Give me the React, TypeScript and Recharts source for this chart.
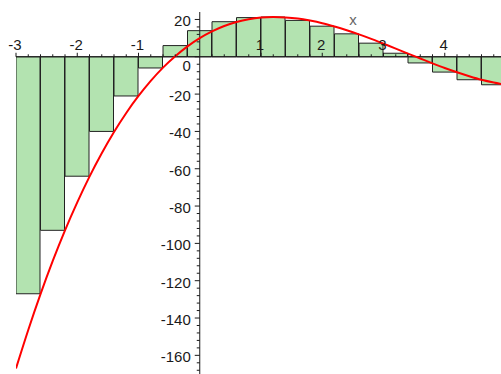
import { ComposedChart, Bar, Line, XAxis, YAxis, ReferenceLine, ReferenceDot } from 'recharts'

// strips of width 0.4 from -3 to 5, height taken at the right end of each strip
const stripMid = [-2.8, -2.4, -2.0, -1.6, -1.2, -0.8, -0.4, 0, 0.4, 0.8, 1.2, 1.6, 2.0, 2.4, 2.8, 3.2, 3.6, 4.0, 4.4, 4.8]
const stripHeight = [-127, -93, -64, -40, -21, -6, 6, 14, 18.8, 21, 21.3, 19.5, 16.4, 12.3, 7.3, 1.9, -3.3, -8.2, -12.3, -15]

// the red curve, read every 0.2
const curveX = [
  -3, -2.8, -2.6, -2.4, -2.2, -2, -1.8, -1.6, -1.4, -1.2, -1, -0.8, -0.6, -0.4, -0.2, 0, 0.2, 0.4, 0.6, 0.8, 1,
  1.2, 1.4, 1.6, 1.8, 2, 2.2, 2.4, 2.6, 2.8, 3, 3.2, 3.4, 3.6, 3.8, 4, 4.2, 4.4, 4.6, 4.8, 5,
]
const curveY = [
  -167, -146.4, -127.2, -109.4, -93, -78, -64.2, -51.7, -40.3, -30.1, -21, -12.9, -5.8, 0.3, 5.6, 10, 13.6, 16.5, 18.6, 20.1, 21,
  21.3, 21.1, 20.5, 19.4, 18, 16.2, 14.2, 12, 9.6, 7, 4.4, 1.7, -0.9, -3.5, -6, -8.3, -10.4, -12.3, -13.8, -15,
]

const xLabels = [-3, -2, -1, 1, 2, 3, 4, 5]
const yLabels = [-160, -140, -120, -100, -80, -60, -40, -20, 0, 20]

const strips = stripMid.map((x, i) => ({ x, h: stripHeight[i] }))
const curve = curveX.map((x, i) => ({ x, y: curveY[i] }))

// minor tick marks: every 0.2 on x, every 4 on y
const xMinor = Array.from({ length: 41 }, (_, i) => Math.round((-3 + i * 0.2) * 10) / 10).filter(
  (v) => !Number.isInteger(v)
)
const yMinor = Array.from({ length: 48 }, (_, i) => -168 + i * 4).filter((v) => v % 20 !== 0)

const font = '"Liberation Sans", Arial, sans-serif'
const ink = '#1a1a1a'

const xTick = (major: boolean, label?: number) => (p: any) => (
  <g>
    <line x1={p.cx} y1={p.cy} x2={p.cx} y2={p.cy - (major ? 4 : 2.5)} stroke={ink} strokeWidth={1} />
    {label !== undefined && (
      <text x={p.cx - 1} y={p.cy - 6.5} textAnchor="middle" fontSize={15} fontFamily={font} fill={ink}>
        {label}
      </text>
    )}
  </g>
)

const yTick = (major: boolean, label?: number) => (p: any) => (
  <g>
    <line x1={p.cx} y1={p.cy} x2={p.cx - (major ? 5 : 3)} y2={p.cy} stroke={ink} strokeWidth={1} />
    {label !== undefined && (
      <text
        x={p.cx - 9}
        y={p.cy + (label === 0 ? 14 : 7)}
        textAnchor="end"
        fontSize={15}
        fontFamily={font}
        fill={ink}
      >
        {label}
      </text>
    )}
  </g>
)

export default function App() {
  return (
    <div style={{ position: 'absolute', left: 0, top: 0, width: 501, height: 374, overflow: 'hidden', background: '#fff' }}>
      <ComposedChart
        width={507}
        height={374}
        data={strips}
        barCategoryGap={0}
        barGap={0}
        margin={{ top: 12, right: 1, bottom: 0, left: 16 }}
      >
        <XAxis xAxisId="strip" dataKey="x" type="number" domain={[-3, 5]} allowDataOverflow hide />
        <XAxis xAxisId="fn" dataKey="x" type="number" domain={[-3, 5]} allowDataOverflow hide />
        <YAxis type="number" domain={[-170, 24]} allowDataOverflow hide />

        <Bar xAxisId="strip" dataKey="h" fill="#b3e3b0" stroke="#222" strokeWidth={1} isAnimationActive={false} />

        {/* axes through the origin */}
        <ReferenceLine xAxisId="fn" y={0} stroke={ink} strokeWidth={1} />
        <ReferenceLine xAxisId="fn" x={0} stroke={ink} strokeWidth={1} />

        {xMinor.map((v) => (
          <ReferenceDot key={'xm' + v} xAxisId="fn" x={v} y={0} r={0} shape={xTick(false)} />
        ))}
        {xLabels.map((v) => (
          <ReferenceDot key={'xl' + v} xAxisId="fn" x={v} y={0} r={0} shape={xTick(true, v)} />
        ))}
        {yMinor.map((v) => (
          <ReferenceDot key={'ym' + v} xAxisId="fn" x={0} y={v} r={0} shape={yTick(false)} />
        ))}
        {yLabels.map((v) => (
          <ReferenceDot key={'yl' + v} xAxisId="fn" x={0} y={v} r={0} shape={yTick(true, v)} />
        ))}
        <ReferenceDot
          xAxisId="fn"
          x={2.5}
          y={19}
          r={0}
          shape={(p: any) => (
            <text x={p.cx} y={p.cy + 4} textAnchor="middle" fontSize={15} fontFamily={font} fill="#666">
              x
            </text>
          )}
        />

        <Line
          xAxisId="fn"
          data={curve}
          dataKey="y"
          type="monotone"
          stroke="#ff0000"
          strokeWidth={2}
          dot={false}
          isAnimationActive={false}
        />
      </ComposedChart>
    </div>
  )
}
